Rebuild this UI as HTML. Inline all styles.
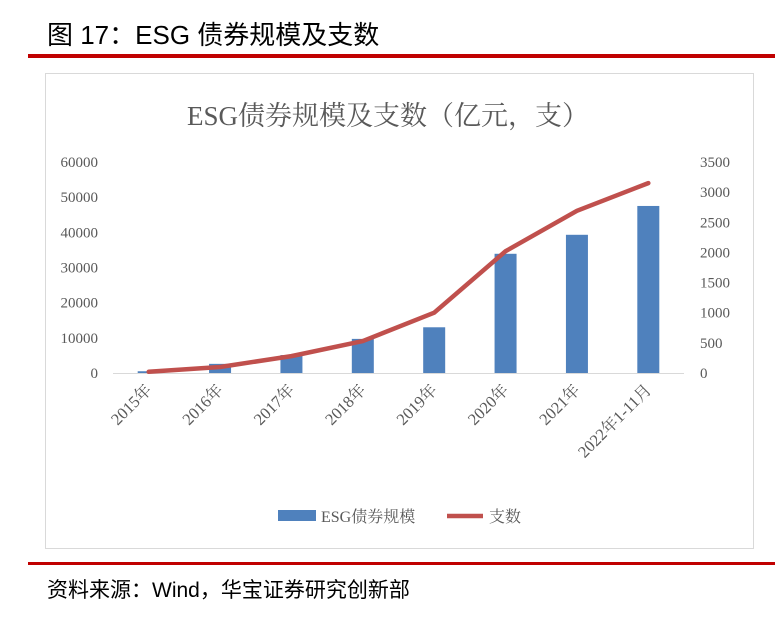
<!DOCTYPE html>
<html><head><meta charset="utf-8"><style>
body{margin:0;width:775px;height:632px;background:#fff;position:relative;overflow:hidden;font-family:"Liberation Sans","Noto Sans CJK SC",sans-serif}
.h{position:absolute;left:47px;top:15px;font-size:26px;color:#000}
.rl{position:absolute;left:28px;width:747px;height:4px;background:#c00000}
.ft{position:absolute;left:47px;top:574px;font-size:21px;color:#000}
</style></head><body>
<div class="h">图 17：ESG 债券规模及支数</div>
<div class="rl" style="top:54px"></div>
<div class="rl" style="top:562px;height:3px"></div>
<div class="ft">资料来源：Wind，华宝证券研究创新部</div>
<svg id="c" width="775" height="632" style="position:absolute;left:0;top:0">
<rect x="45.5" y="73.5" width="708" height="475" fill="none" stroke="#d9d9d9"/>
<text x="388" y="125" text-anchor="middle" font-size="27" fill="#595959" font-family="Liberation Serif,'Noto Serif CJK SC',serif">ESG债券规模及支数（亿元，支）</text>
</svg>
<script>
const categories=["2015年","2016年","2017年","2018年","2019年","2020年","2021年","2022年1-11月"];
const scaleValues=[500,2600,5100,9700,13000,33900,39300,47500];
const countValues=[20,100,280,530,1000,2020,2690,3150];
const leftTicks=[0,10000,20000,30000,40000,50000,60000];
const rightTicks=[0,500,1000,1500,2000,2500,3000,3500];
const svg=document.getElementById('c');const NS='http://www.w3.org/2000/svg';
const x0=113,x1=684,yb=373,yt=162;
const xs=i=>x0+(x1-x0)/categories.length*(i+0.5);
const yl=v=>yb-(yb-yt)*v/60000;
const yr=v=>yb-(yb-yt)*v/3500;
function mk(t,a,p){const e=document.createElementNS(NS,t);for(const k in a)e.setAttribute(k,a[k]);(p||svg).appendChild(e);return e;}
const ff="Liberation Serif,'Noto Serif CJK SC',serif";
leftTicks.forEach(v=>{const e=mk('text',{x:98,y:yl(v)+5,'text-anchor':'end','font-size':15,fill:'#595959','font-family':ff});e.textContent=v;

});
rightTicks.forEach(v=>{const e=mk('text',{x:700,y:yr(v)+5,'font-size':15,fill:'#595959','font-family':ff});e.textContent=v;

});
const ax=mk('line',{x1:x0,x2:x1,y1:yb+.5,y2:yb+.5,stroke:'#d9d9d9'});


scaleValues.forEach((v,i)=>{const r=mk('rect',{x:xs(i)-11,y:yl(v),width:22,height:yb-yl(v),fill:'#4f81bd'});

});
const pl=mk('polyline',{points:countValues.map((v,i)=>xs(i)+','+yr(v)).join(' '),fill:'none',stroke:'#c0504d','stroke-width':4.5,'stroke-linejoin':'round','stroke-linecap':'round'});


categories.forEach((c,i)=>{const ax_=xs(i)+4,ay=391;const t=mk('text',{x:ax_,y:ay,'text-anchor':'end','font-size':16.5,fill:'#595959','font-family':ff,transform:`rotate(-45 ${ax_} ${ay})`});t.textContent=c;

});
const lg=mk('g',{});


mk('rect',{x:278,y:510,width:38,height:11,fill:'#4f81bd'},lg);
const t1=mk('text',{x:321,y:522,'font-size':16,fill:'#595959','font-family':ff},lg);t1.textContent='ESG债券规模';


mk('line',{x1:447,x2:483,y1:516,y2:516,stroke:'#c0504d','stroke-width':4.5},lg);
const t2=mk('text',{x:489,y:522,'font-size':16,fill:'#595959','font-family':ff},lg);t2.textContent='支数';


</script>
</body></html>
